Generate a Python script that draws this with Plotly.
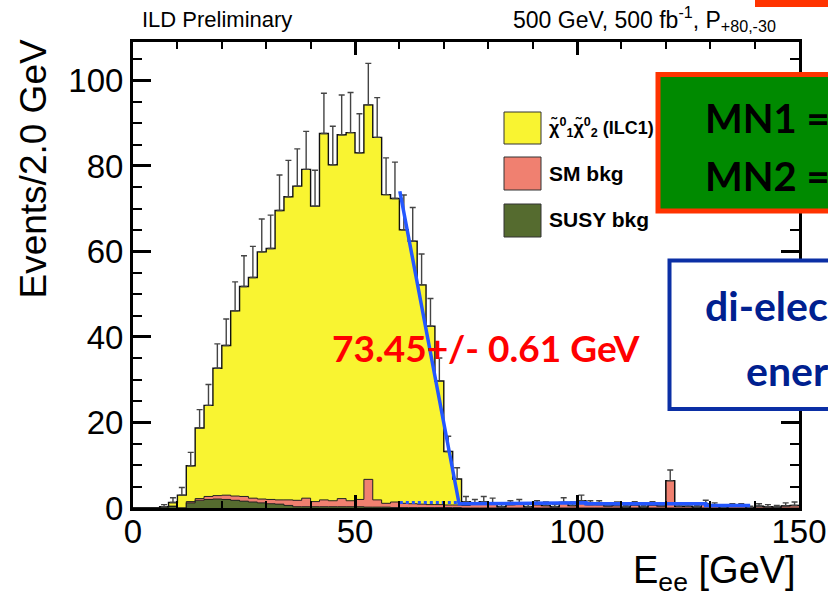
import numpy as np
import plotly.graph_objects as go

# ---------------- data ----------------
bin_edges = np.arange(0, 152, 2)          # 2.0 GeV bins, 0..150 GeV

signal = [0, 0, 0, 0, 0.9, 3.0, 8.4, 16.5, 21.3, 29.8,
          35.0, 43.3, 49.1, 51.6, 57.8, 58.7, 67.7, 70.9, 73.5, 76.9,
          69.1, 85.7, 78.6, 85.1, 86.1, 81.1, 87.6, 84.8, 72.2, 71.0,
          64.0, 61.4, 51.3, 41.7, 28.9, 12.5, 6.1, 0.9, 0, 0,
          0, 0, 0, 0, 0, 0, 0, 0, 0, 0,
          0, 0, 0, 0, 0, 0, 0, 0, 0, 0,
          0, 0, 0, 0, 0, 0, 0, 0, 0, 0,
          0, 0, 0, 0, 0]

sm_bkg = [0, 0, 0, 0, 0, 0, 0.3, 0.4, 0.7, 0.8,
          1.0, 1.0, 1.1, 0.9, 0.9, 1.0, 1.0, 1.3, 1.5, 2.0,
          1.2, 1.6, 1.4, 1.9, 1.4, 1.7, 6.5, 1.7, 0.9, 1.3,
          1.0, 0.9, 0.8, 0.7, 0.7, 0.6, 0.6, 0.6, 1.0, 1.5,
          1.2, 0.3, 0.8, 1.0, 0.3, 0.8, 0.6, 0.3, 1.3, 0.6,
          1.7, 0.8, 0.8, 0.5, 0.6, 0.2, 0.7, 0.2, 0.7, 0.5,
          6.4, 0.4, 0.4, 0.2, 0.9, 0.5, 0.1, 0.4, 0.4, 0.1,
          0.4, 0.3, 0.2, 0.5, 0.6]

susy_bkg = [0, 0, 0, 0.3, 0.4, 0, 1.2, 1.8, 2.0, 2.1,
            2.0, 1.8, 1.6, 1.4, 1.2, 1.0, 0.9, 0.6, 0.3, 0.3,
            0.3, 0.3, 0.3, 0.3, 0.3, 0.3, 0.2, 0.2, 0.2, 0.1,
            0.1, 0.1, 0.1, 0.1, 0.1, 0.1, 0.1, 0, 0, 0,
            0, 0, 0, 0, 0, 0, 0, 0, 0, 0,
            0, 0, 0, 0, 0, 0, 0, 0, 0, 0,
            0, 0, 0, 0, 0, 0, 0, 0, 0, 0,
            0, 0, 0, 0, 0]

stat_err = [0, 0, 0, 0.5, 1.1, 1.8, 3.1, 4.3, 4.9, 5.7,
            6.2, 6.8, 7.2, 7.3, 7.7, 7.8, 8.3, 8.5, 8.7, 8.9,
            8.4, 9.4, 9.0, 9.3, 9.4, 9.1, 9.7, 9.3, 8.6, 8.5,
            8.1, 7.9, 7.2, 6.5, 5.4, 3.6, 2.6, 1.2, 1.0, 1.2,
            1.1, 0.5, 0.9, 1.0, 0.5, 0.9, 0.8, 0.5, 1.1, 0.8,
            1.3, 0.9, 0.9, 0.7, 0.8, 0.4, 0.8, 0.4, 0.8, 0.7,
            2.5, 0.6, 0.6, 0.4, 0.9, 0.7, 0.3, 0.6, 0.6, 0.3,
            0.6, 0.5, 0.4, 0.7, 0.8]

# edge fit (blue) and its background component (dotted)
fit_x = [60.1, 73.45, 102.0, 102.0, 129.0, 129.0, 139.0]
fit_y = [74.1, 1.0, 1.2, 1.0, 1.0, 0.6, 0.6]
fit_bkg_x = [60.1, 73.45]
fit_bkg_y = [1.3, 1.3]

x_tick_vals = [0, 50, 100, 150]
y_tick_vals = [0, 20, 40, 60, 80, 100]
x_range = [0, 150]
y_range = [0, 109]

# ---------------- derived geometry ----------------
centers = (bin_edges[:-1] + bin_edges[1:]) / 2
widths = np.diff(bin_edges)
sig = np.array(signal)
sm = np.array(sm_bkg)
su = np.array(susy_bkg)
err = np.array(stat_err)
bkg_top = su + sm
total = bkg_top + sig

YELLOW = "#F9F431"
SALMON = "#F08070"
OLIVE = "#556B2F"
FITBLUE = "#2457FF"

fig = go.Figure()
fig.add_trace(go.Bar(x=centers, y=su, width=widths, marker=dict(color=OLIVE, line=dict(width=0)),
                     name="SUSY bkg", showlegend=False))
fig.add_trace(go.Bar(x=centers, y=sm, width=widths, marker=dict(color=SALMON, line=dict(width=0)),
                     name="SM bkg", showlegend=False))
fig.add_trace(go.Bar(x=centers, y=sig, width=widths, marker=dict(color=YELLOW, line=dict(width=0)),
                     name="signal", showlegend=False))


def step(vals):
    return list(vals) + [vals[-1]]


fig.add_trace(go.Scatter(x=bin_edges, y=step(su), mode="lines", line=dict(color="#222", width=1, shape="hv"),
                         showlegend=False, hoverinfo="skip"))
fig.add_trace(go.Scatter(x=bin_edges, y=step(bkg_top), mode="lines", line=dict(color="#222", width=1, shape="hv"),
                         showlegend=False, hoverinfo="skip"))
fig.add_trace(go.Scatter(x=bin_edges, y=step(total), mode="lines", line=dict(color="#111", width=1.4, shape="hv"),
                         showlegend=False, hoverinfo="skip"))

mask = total > 0
fig.add_trace(go.Scatter(x=centers[mask], y=total[mask], mode="markers",
                         marker=dict(size=1, opacity=0),
                         error_y=dict(type="data", symmetric=False, array=err[mask],
                                      arrayminus=np.zeros(mask.sum()), color="#444", thickness=1.4, width=3),
                         showlegend=False, hoverinfo="skip"))

fig.add_trace(go.Scatter(x=fit_bkg_x, y=fit_bkg_y, mode="lines", line=dict(color=FITBLUE, width=3, dash="dot"),
                         showlegend=False, hoverinfo="skip"))
fig.add_trace(go.Scatter(x=fit_x, y=fit_y, mode="lines", line=dict(color=FITBLUE, width=3.5),
                         showlegend=False, hoverinfo="skip"))

# ---------------- layout ----------------
W, H = 828, 598
L, R, T, B = 133, 29, 42, 90
PW, PH = W - L - R, H - T - B


def px(xp):
    return (xp - L) / PW


def py(yp):
    return (H - B - yp) / PH


HELV = "Liberation Sans, Arial, Helvetica, sans-serif"
AXFONT = dict(family=HELV, size=33, color="black")

fig.update_layout(
    width=W, height=H, margin=dict(l=L, r=R, t=T, b=B, pad=0, autoexpand=False),
    paper_bgcolor="white", plot_bgcolor="white",
    barmode="stack", bargap=0, showlegend=False,
    xaxis=dict(range=x_range, tickmode="array", tickvals=x_tick_vals, ticks="inside", ticklen=13,
               tickwidth=2.5, tickcolor="black", showline=True, linewidth=3, linecolor="black",
               mirror="allticks", showgrid=False, zeroline=False, tickfont=AXFONT, ticklabelstandoff=-8,
               automargin=False,
               minor=dict(dtick=10, tick0=0, ticks="inside", ticklen=7, tickwidth=2, tickcolor="black")),
    yaxis=dict(range=y_range, tickmode="array", tickvals=y_tick_vals, ticks="inside", ticklen=18,
               tickwidth=2.5, tickcolor="black", showline=True, linewidth=3, linecolor="black",
               mirror="allticks", showgrid=False, zeroline=False, tickfont=AXFONT, automargin=False,
               minor=dict(dtick=5, tick0=0, ticks="inside", ticklen=9, tickwidth=2, tickcolor="black")),
)

shapes = []
# legend boxes
for (y0, y1, c) in [(112, 144, YELLOW), (157, 190, SALMON), (204, 237, OLIVE)]:
    shapes.append(dict(type="rect", xref="paper", yref="paper", x0=px(504), x1=px(541), y0=py(y1), y1=py(y0),
                       fillcolor=c, line=dict(color="#333", width=1), layer="above"))
# slide overlays
shapes.append(dict(type="rect", xref="paper", yref="paper", x0=px(658), x1=px(860), y0=py(211), y1=py(74.5),
                   fillcolor="#008A00", line=dict(color="#FF3300", width=5), layer="above"))
shapes.append(dict(type="rect", xref="paper", yref="paper", x0=px(669.5), x1=px(860), y0=py(409), y1=py(260.5),
                   fillcolor="white", line=dict(color="#0B2FA5", width=4), layer="above"))
shapes.append(dict(type="rect", xref="paper", yref="paper", x0=px(755), x1=px(860), y0=py(7), y1=py(-10),
                   fillcolor="#FF3300", line=dict(width=0), layer="above"))
fig.update_layout(shapes=shapes)

LEGFONT = dict(family=HELV, size=21, color="black")
ROOTFONT = dict(family=HELV, size=22, color="black")
SLIDE = "Lato, Open Sans, sans-serif"

ann = [
    dict(text="ILD Preliminary", x=px(140), y=py(19), xanchor="left", yanchor="middle", font=ROOTFONT),
    dict(text="500 GeV, 500 fb<sup>-1</sup>, P<sub>+80,-30</sub>", x=px(511), y=py(19), xanchor="left",
         yanchor="middle", font=dict(family=HELV, size=23, color="black")),
    dict(text="Events/2.0 GeV", x=px(33), y=py(38), xanchor="center", yanchor="top", textangle=-90,
         font=dict(family=HELV, size=37, color="black")),
    dict(text="E<sub>ee</sub> [GeV]", x=px(798), y=py(573), xanchor="right", yanchor="middle",
         font=dict(family=HELV, size=38, color="black")),
    dict(text="<b>χ̃<sup>0</sup><sub>1</sub>χ̃<sup>0</sup><sub>2</sub> (ILC1)</b>", x=px(547), y=py(128),
         xanchor="left", yanchor="middle", font=dict(family=HELV, size=18, color="black")),
    dict(text="<b>SM bkg</b>", x=px(547), y=py(173), xanchor="left", yanchor="middle", font=LEGFONT),
    dict(text="<b>SUSY bkg</b>", x=px(547), y=py(220), xanchor="left", yanchor="middle", font=LEGFONT),
    dict(text="<b>73.45+/- 0.61 GeV</b>", x=px(330), y=py(347), xanchor="left", yanchor="middle",
         font=dict(family=SLIDE, size=37, color="#FF0000")),
    dict(text="<b>MN1 =</b>", x=px(703), y=py(118), xanchor="left", yanchor="middle",
         font=dict(family=SLIDE, size=40, color="black")),
    dict(text="<b>MN2 =</b>", x=px(703), y=py(176), xanchor="left", yanchor="middle",
         font=dict(family=SLIDE, size=40, color="black")),
    dict(text="<b>di-electron</b>", x=px(703), y=py(305), xanchor="left", yanchor="middle",
         font=dict(family=SLIDE, size=41, color="#00208F")),
    dict(text="<b>energy</b>", x=px(744), y=py(370), xanchor="left", yanchor="middle",
         font=dict(family=SLIDE, size=41, color="#00208F")),
]
for a in ann:
    a.update(xref="paper", yref="paper", showarrow=False)
fig.update_layout(annotations=ann)

fig.write_html("out.html", config={"displayModeBar": False})

# remove the default page margin so the 828x598 figure fills the window exactly
with open("out.html", "r", encoding="utf-8") as f:
    html = f.read()
html = html.replace("<head>", "<head><style>html,body{margin:0;padding:0;overflow:hidden;}</style>", 1)
with open("out.html", "w", encoding="utf-8") as f:
    f.write(html)
